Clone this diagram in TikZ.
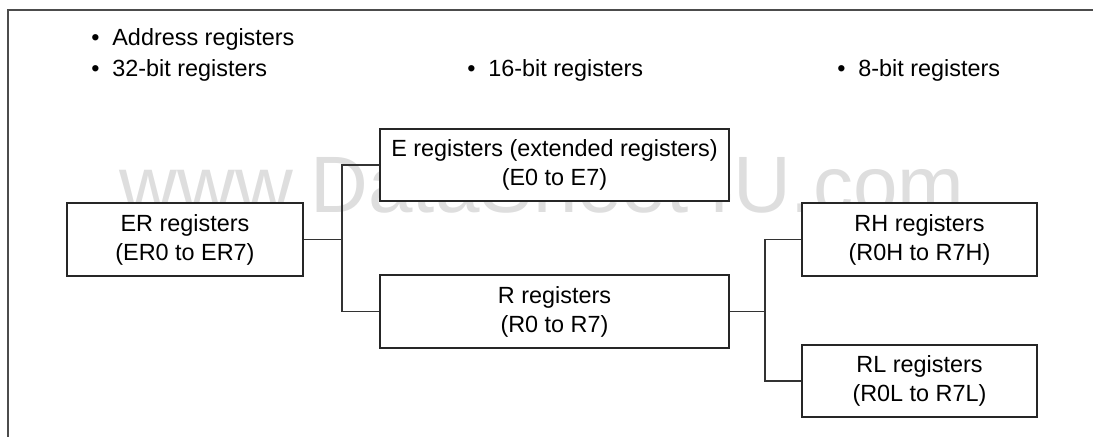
\documentclass[tikz,border=0pt]{standalone}
\usepackage{fontspec}
\setmainfont{Liberation Sans}
\usepackage{tikz}
\usetikzlibrary{positioning}
\tikzstyle{regbox} = [draw=black!85,line width=0.7pt,fill=white,align=center,inner sep=0pt,font=\fontsize{11.7pt}{14.5pt}\selectfont]
\tikzstyle{head} = [anchor=base west,inner sep=0pt,font=\fontsize{11.7pt}{14pt}\selectfont]
\tikzstyle{wire} = [draw=black!80,line width=0.7pt]
\newcommand{\regitem}[1]{\makebox[10.5pt][l]{\textbullet}#1}
\tikzset{>=latex}

\begin{document}
\begin{tikzpicture}[x=0.5pt,y=-0.5pt]
    \useasboundingbox (0,0) rectangle (1093,437);
    \node [anchor=base,inner sep=0pt,text=black!13,font=\fontsize{40pt}{40pt}\selectfont] (mark) at (542,213) {www.DataSheet4U.com};
    \draw [black!70,line width=1pt] (8,437) -- (8,10) -- (1093,10);
    % headings
    \node [head] (addr) at (91,46) {\regitem{Address registers}};
    \node [head] (b32) at (91,77) {\regitem{32-bit registers}};
    \node [head] (b16) at (467,77) {\regitem{16-bit registers}};
    \node [head] (b8) at (837,77) {\regitem{8-bit registers}};
    % register boxes
    \node [regbox,minimum width=118pt,minimum height=36.5pt] (er) at (185,239.5) {ER registers\\(ER0 to ER7)};
    \node [regbox,minimum width=174.5pt,minimum height=36pt] (e) at (554.5,165) {E registers (extended registers)\\(E0 to E7)};
    \node [regbox,minimum width=174.5pt,minimum height=36.5pt] (r) at (554.5,311.5) {R registers\\(R0 to R7)};
    \node [regbox,minimum width=117.5pt,minimum height=36.5pt] (rh) at (919.5,239.5) {RH registers\\(R0H to R7H)};
    \node [regbox,minimum width=117.5pt,minimum height=36pt] (rl) at (919.5,381) {RL registers\\(R0L to R7L)};
    \coordinate (erjoin) at (342,239.5);
    \coordinate (rjoin) at (765,311.5);
    \draw [wire] (er.east) -- (erjoin);
    \draw [wire] (e.west) -| (erjoin) |- (r.west);
    \draw [wire] (r.east) -- (rjoin);
    \draw [wire] (rh.west) -| (rjoin) |- (rl.west);
\end{tikzpicture}
\end{document}
